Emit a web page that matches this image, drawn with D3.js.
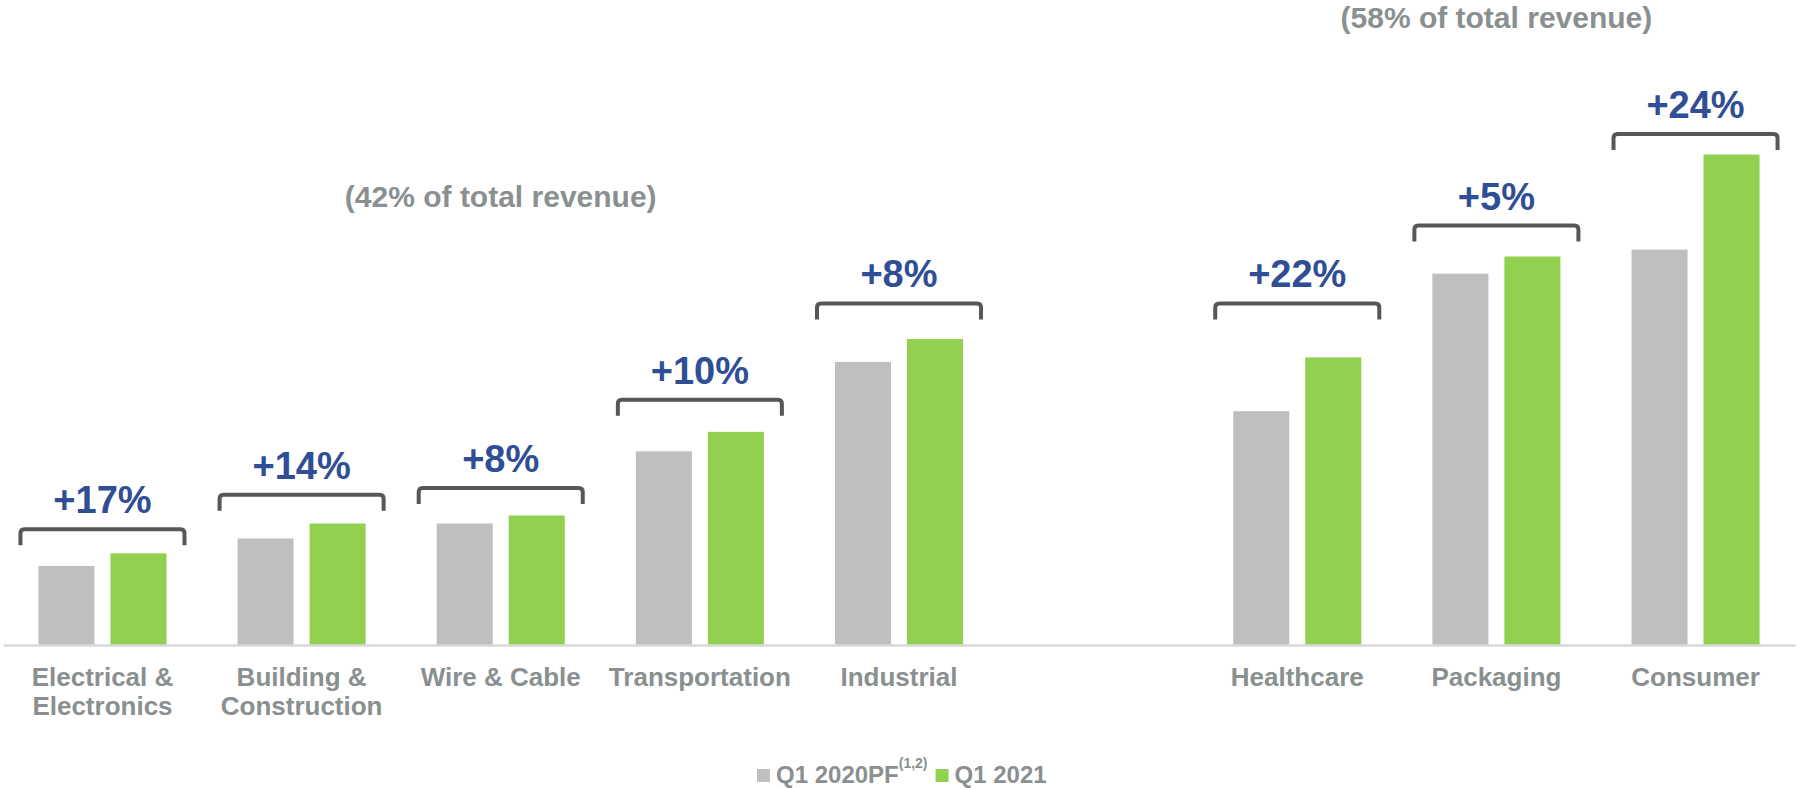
<!DOCTYPE html>
<html>
<head>
<meta charset="utf-8">
<script src="https://cdn.jsdelivr.net/npm/d3@7"></script>
<style>
  html, body { margin: 0; padding: 0; background: #fff; }
  svg { display: block; font-family: "Liberation Sans", Arial, sans-serif; font-weight: bold; }
</style>
</head>
<body>
<script>
// segment A (42% of revenue) then segment B (58%)
const categoriesA = ['Electrical &\nElectronics', 'Building &\nConstruction', 'Wire & Cable', 'Transportation', 'Industrial'];
const categoriesB = ['Healthcare', 'Packaging', 'Consumer'];
const categories = categoriesA.concat(categoriesB);
// relative revenue
const q1_2020pf = [69, 93, 106, 169, 247, 204, 324, 345];
const q1_2021 = [80, 106, 113, 186, 267, 251, 339, 428];
const growth = ['+17%', '+14%', '+8%', '+10%', '+8%', '+22%', '+5%', '+24%'];
// level of the bracket above each pair, same units as the bars
const bracketLevel = [101, 131, 137, 214, 298, 298, 366, 446];
const segmentTitles = ['(42% of total revenue)', '(58% of total revenue)'];
const seriesNames = ['Q1 2020PF', 'Q1 2021'];

const W = 1797, H = 788;
const baseY = 645;
const GREY = '#bfbfbf', GREEN = '#92d050', TEXT = '#8a8f90', BLUE = '#2f4e95', BRACKET = '#54585a';

const svg = d3.select('body').append('svg').attr('width', W).attr('height', H);

const slots = categoriesA.concat(['__gap__'], categoriesB);
const x = d3.scaleBand().domain(slots).range([3, 1795]).paddingInner(0.357).paddingOuter(0.178);
const x1 = d3.scaleBand().domain([0, 1]).range([0, x.bandwidth()]).paddingInner(0.222);
const y = d3.scaleLinear().domain([0, 500]).range([baseY, baseY - 573]);

const rows = categories.map((c, i) => ({
  cat: c, vals: [q1_2020pf[i], q1_2021[i]], g: growth[i], lvl: bracketLevel[i]
}));

// bars
const grp = svg.selectAll('g.cat').data(rows).join('g')
  .attr('class', 'cat')
  .attr('transform', d => `translate(${x(d.cat)},0)`);

grp.selectAll('rect').data(d => d.vals).join('rect')
  .attr('x', (v, j) => x1(j))
  .attr('width', x1.bandwidth())
  .attr('y', v => y(v))
  .attr('height', v => baseY - y(v))
  .attr('fill', (v, j) => j ? GREEN : GREY);

// axis line
svg.append('g')
  .attr('transform', `translate(0,${baseY})`)
  .call(d3.axisBottom(x).tickSize(0).tickFormat(''))
  .call(g => g.select('.domain').attr('stroke', '#d9d9d9').attr('stroke-width', 2.5));

// brackets
const ext = 18, leg = 16, r = 4;
grp.append('path')
  .attr('d', d => {
    const x0 = -ext, xr = x.bandwidth() + ext, yt = y(d.lvl), yb = yt + leg;
    return `M${x0},${yb}V${yt + r}Q${x0},${yt} ${x0 + r},${yt}H${xr - r}Q${xr},${yt} ${xr},${yt + r}V${yb}`;
  })
  .attr('fill', 'none')
  .attr('stroke', BRACKET)
  .attr('stroke-width', 4);

grp.append('text')
  .attr('x', x.bandwidth() / 2)
  .attr('y', d => y(d.lvl) - 16)
  .attr('text-anchor', 'middle')
  .attr('font-size', 38)
  .attr('fill', BLUE)
  .text(d => d.g);

// category labels
grp.append('text')
  .attr('text-anchor', 'middle')
  .attr('font-size', 26)
  .attr('fill', TEXT)
  .selectAll('tspan').data(d => d.cat.split('\n')).join('tspan')
  .attr('x', x.bandwidth() / 2)
  .attr('y', (t, k) => 686 + k * 29)
  .text(t => t);

// segment titles, centred on middle category of each segment
const titleAnchors = [categoriesA[2], categoriesB[1]];
const titleY = [207, 28];
svg.selectAll('text.seg').data(segmentTitles).join('text')
  .attr('class', 'seg')
  .attr('x', (t, i) => x(titleAnchors[i]) + x.bandwidth() / 2)
  .attr('y', (t, i) => titleY[i])
  .attr('text-anchor', 'middle')
  .attr('font-size', 30)
  .attr('fill', TEXT)
  .text(t => t);

// legend
const lg = svg.append('g').attr('transform', 'translate(757,783)');
lg.append('rect').attr('x', 0).attr('y', -14).attr('width', 13).attr('height', 13).attr('fill', GREY);
const t1 = lg.append('text').attr('x', 19).attr('y', 0).attr('font-size', 24).attr('fill', TEXT);
t1.append('tspan').text(seriesNames[0]);
t1.append('tspan').attr('font-size', 14).attr('dy', -15).text('(1,2)');
const w1 = t1.node().getComputedTextLength();
const lx = 19 + w1 + 8;
lg.append('rect').attr('x', lx).attr('y', -14).attr('width', 13).attr('height', 13).attr('fill', GREEN);
lg.append('text').attr('x', lx + 19).attr('y', 0).attr('font-size', 24).attr('fill', TEXT).text(seriesNames[1]);
</script>
</body>
</html>
